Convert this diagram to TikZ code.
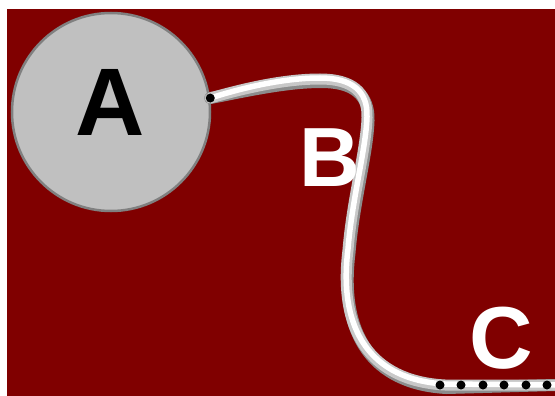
\documentclass[tikz,border=0pt]{standalone}
\usepackage{fontspec}
\setmainfont{Liberation Sans}
\usepackage{tikz}

\definecolor{bgred}{HTML}{800000}
\definecolor{discgray}{HTML}{C0C0C0}
\definecolor{rimgray}{HTML}{808080}
\definecolor{tubeshade}{HTML}{8C8C8C}
\definecolor{tubelight}{HTML}{C8C8C8}

\tikzset{
  letter/.style={font=\bfseries\fontsize{#1}{#1}\selectfont, inner sep=0pt},
  joint/.style={circle, fill=black, minimum size=9pt, inner sep=0pt},
}

\begin{document}
\begin{tikzpicture}[x=1pt,y=-1pt]
    % Frame: 555 x 396 px, y grows downwards.
    \useasboundingbox (0,0) rectangle (555,396);
    \fill[bgred] (7,9) rectangle (555,396);

    \node[circle, draw=rimgray, line width=2.5pt, fill=discgray,
          minimum size=198pt, inner sep=0pt] (A) at (111,112) {};
    \node[letter=96, text=black] (labA) at (110.5,102.5) {A};

    \coordinate (start) at (A.8.7);
    \coordinate (tubeend) at (555,385);

    % The tube, drawn three times: shadow, body, highlight.
    \foreach \col/\wd/\dx/\dy in {tubeshade/12/1.5/3, tubelight/11/0/0, white/5.5/0/-1} {
      \draw[\col, line width=\wd pt, line cap=round, shift={(\dx,\dy)}]
        (start) .. controls (245,88) and (285,79) .. (320,79)
        .. controls (352,79) and (368,92) .. (367,118)
        .. controls (366,150) and (352,200) .. (348,250)
        .. controls (338,330) and (370,381) .. (445,385)
        -- (tubeend);
    }

    \node[joint] (j0) at (start) {};
    \foreach \x [count=\i] in {440,461,483,504,526,547} {
      \node[joint] (j\i) at (\x,385) {};
    }

    \node[letter=84, text=white] (labB) at (330,158) {B};
    \node[letter=88, text=white] (labC) at (501,338) {C};
\end{tikzpicture}
\end{document}
